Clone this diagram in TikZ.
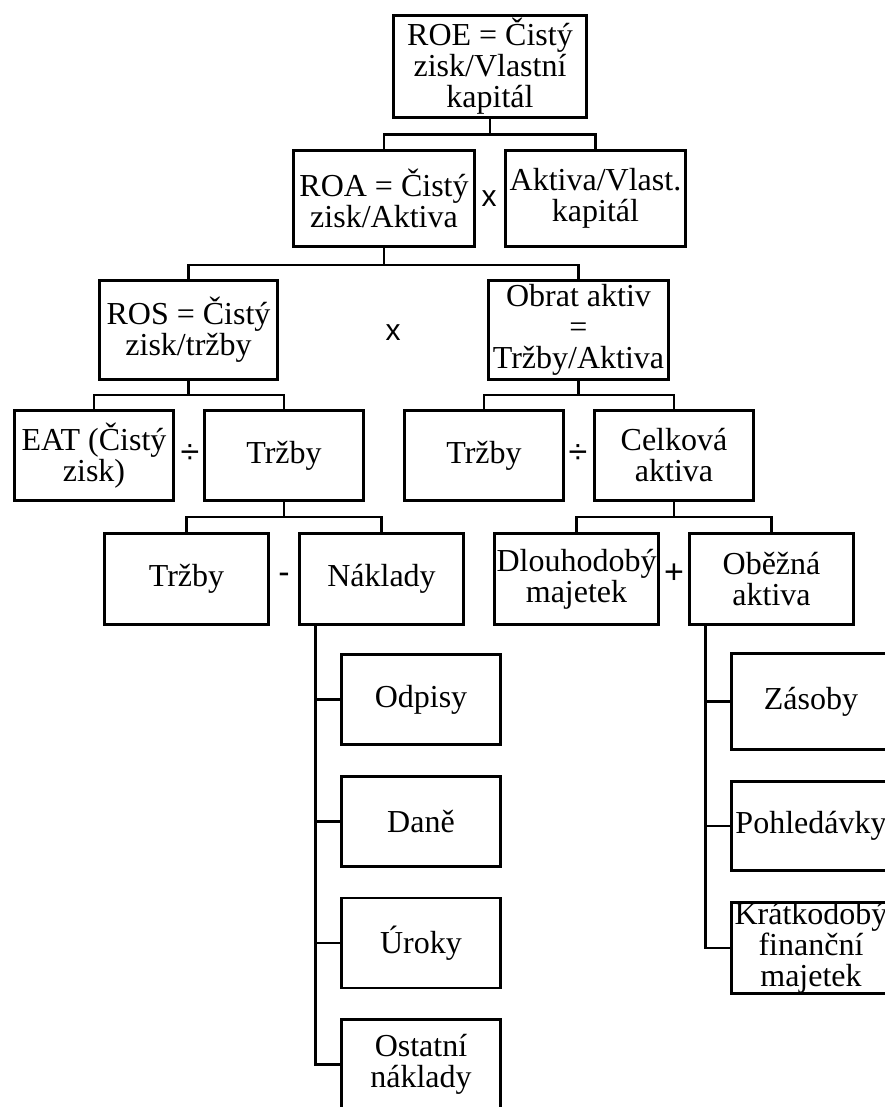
\documentclass[tikz,border=0pt]{standalone}
\usepackage{fontspec}
\setmainfont{Liberation Serif}
\newfontfamily\opfont{Liberation Sans}
\usetikzlibrary{calc}
\begin{document}
\begin{tikzpicture}[x=1pt,y=-1pt,
  box/.style={draw, line width=2.8pt, inner sep=0pt, align=center,
    font=\fontsize{32}{31}\selectfont},
  op/.style={inner sep=0pt, font=\opfont\fontsize{34}{34}\selectfont},
  opx/.style={inner sep=0pt, font=\opfont\fontsize{30}{30}\selectfont},
  link/.style={line width=2.8pt}]
\fill[white] (0,0) rectangle (885,1107);
\useasboundingbox (0,0) rectangle (885,1107);
\clip (0,0) rectangle (885,1107);

% level 1
\node[box, minimum width=193, minimum height=102] (roe) at (490,66.5) {ROE = Čistý\\zisk/Vlastní\\kapitál};
% level 2
\node[box, minimum width=181, minimum height=96] (roa) at (384,198.5) {ROA = Čistý\\zisk/Aktiva};
\node[box, minimum width=180, minimum height=96] (akt) at (595.5,198.5) {Aktiva/Vlast.\\kapitál};
% level 3
\node[box, minimum width=178, minimum height=99] (ros) at (188.5,330) {ROS = Čistý\\zisk/tržby};
\node[box, minimum width=180, minimum height=99] (obr) at (578.5,330) {Obrat aktiv\\=\\Tržby/Aktiva};
% level 4
\node[box, minimum width=159, minimum height=90] (eat) at (94,455.5) {EAT (Čistý\\zisk)};
\node[box, minimum width=159, minimum height=90] (trza) at (284,455.5) {Tržby};
\node[box, minimum width=159, minimum height=90] (trzb) at (484,455.5) {Tržby};
\node[box, minimum width=159, minimum height=90] (cel) at (674,455.5) {Celková\\aktiva};
% level 5
\node[box, minimum width=164, minimum height=91] (trzc) at (186.5,579) {Tržby};
\node[box, minimum width=164, minimum height=91] (nak) at (381.5,579) {Náklady};
\node[box, minimum width=164, minimum height=91] (dlo) at (576.5,579) {Dlouhodobý\\majetek};
\node[box, minimum width=164, minimum height=91] (obe) at (771.5,579) {Oběžná\\aktiva};
% cost items
\node[box, minimum width=159, minimum height=90] (odp) at (421,699.5) {Odpisy};
\node[box, minimum width=159, minimum height=90] (dan) at (421,821.5) {Daně};
\node[box, minimum width=159, minimum height=90] (uro) at (421,943) {Úroky};
\node[box, minimum width=159, minimum height=90] (ost) at (421,1064.5) {Ostatní\\náklady};
% current assets items
\node[box, minimum width=159, minimum height=96] (zas) at (811,701.5) {Zásoby};
\node[box, minimum width=159, minimum height=89] (poh) at (811,826) {Pohledávky};
\node[box, minimum width=159, minimum height=89] (kra) at (811,948) {Krátkodobý\\finanční\\majetek};

% operators
\node[opx] (xa) at (489,199) {x};
\node[opx] (xb) at (393,333) {x};
\node[op] (da) at (190,454) {÷};
\node[op] (db) at (578,454) {÷};
\node[op] (mi) at (284,578) {-};
\node[op] (pl) at (674,574) {+};

% tree connectors
\draw[link] (roe.south) -- ++(0,16) -| (roa.north);
\draw[link] (roe.south) -- ++(0,16) -| (akt.north);
\draw[link] (roa.south) -- ++(0,17) -| (ros.north);
\draw[link] (roa.south) -- ++(0,17) -| (obr.north);
\draw[link] (ros.south) -- ++(0,14) -| (eat.north);
\draw[link] (ros.south) -- ++(0,14) -| (trza.north);
\draw[link] (obr.south) -- ++(0,14) -| (trzb.north);
\draw[link] (obr.south) -- ++(0,14) -| (cel.north);
\draw[link] (trza.south) -- ++(0,15) -| (trzc.north);
\draw[link] (trza.south) -- ++(0,15) -| (nak.north);
\draw[link] (cel.south) -- ++(0,15) -| (dlo.north);
\draw[link] (cel.south) -- ++(0,15) -| (obe.north);

% side trunks
\coordinate (tn) at ($(nak.south west)+(17,0)$);
\draw[link] (tn) |- (odp.west);
\draw[link] (tn) |- (dan.west);
\draw[link] (tn) |- (uro.west);
\draw[link] (tn) |- (ost.west);
\coordinate (to) at ($(obe.south west)+(17,0)$);
\draw[link] (to) |- (zas.west);
\draw[link] (to) |- (poh.west);
\draw[link] (to) |- (kra.west);
\end{tikzpicture}
\end{document}
